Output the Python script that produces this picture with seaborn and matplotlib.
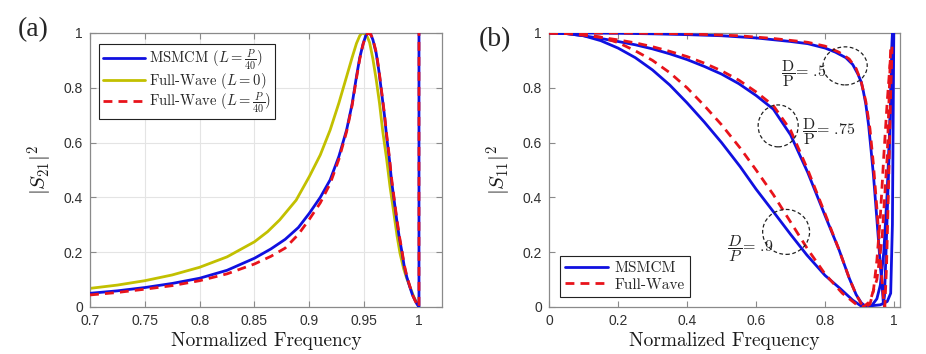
import numpy as np
import pandas as pd
import matplotlib
matplotlib.use("Agg")
import matplotlib.pyplot as plt
from matplotlib.patches import Ellipse
import seaborn as sns

# ---------------- data: panel (a) ----------------
a_msmcm_f = [0.70, 0.725, 0.75, 0.775, 0.80, 0.825, 0.85, 0.865, 0.878, 0.89, 0.90, 0.91,
             0.919, 0.927, 0.934, 0.939, 0.943, 0.946, 0.949, 0.9515, 0.9537, 0.956, 0.958,
             0.961, 0.9635, 0.966, 0.9685, 0.9705, 0.973, 0.975, 0.9775, 0.9797, 0.982,
             0.9845, 0.9865, 0.9888, 0.9915, 0.994, 0.996, 0.998, 1.0, 1.0]
a_msmcm_v = [0.050, 0.059, 0.071, 0.086, 0.105, 0.134, 0.178, 0.212, 0.247, 0.290, 0.342,
             0.400, 0.464, 0.550, 0.646, 0.740, 0.841, 0.910, 0.960, 0.990, 1.0, 0.995, 0.975,
             0.926, 0.860, 0.780, 0.700, 0.622, 0.540, 0.460, 0.385, 0.318, 0.255,
             0.200, 0.150, 0.111, 0.075, 0.045, 0.028, 0.012, 0.0, 1.0]

a_fw0_f = [0.70, 0.725, 0.75, 0.775, 0.80, 0.825, 0.85, 0.862, 0.873, 0.888, 0.90, 0.91,
           0.919, 0.927, 0.934, 0.939, 0.943, 0.946, 0.948, 0.9505, 0.953, 0.955, 0.958,
           0.961, 0.964, 0.967, 0.9705, 0.9736, 0.977, 0.980, 0.9827, 0.986, 0.9888,
           0.9918, 0.995, 0.998, 1.0]
a_fw0_v = [0.068, 0.080, 0.096, 0.117, 0.145, 0.183, 0.238, 0.275, 0.318, 0.390, 0.476,
           0.555, 0.646, 0.745, 0.841, 0.910, 0.962, 0.990, 1.0, 0.997, 0.985, 0.965, 0.905,
           0.830, 0.744, 0.640, 0.540, 0.439, 0.345, 0.260, 0.196, 0.140, 0.105,
           0.074, 0.040, 0.015, 0.0]

a_fwl_f = [0.70, 0.725, 0.75, 0.775, 0.80, 0.825, 0.85, 0.865, 0.878, 0.89, 0.90, 0.91,
           0.919, 0.927, 0.934, 0.939, 0.943, 0.946, 0.949, 0.9515, 0.9537, 0.956, 0.958,
           0.961, 0.9635, 0.966, 0.9685, 0.9705, 0.973, 0.975, 0.9775, 0.9797, 0.982,
           0.9845, 0.9865, 0.9888, 0.9915, 0.994, 0.996, 0.998, 1.0, 1.0]
a_fwl_v = [0.044, 0.053, 0.065, 0.078, 0.096, 0.121, 0.157, 0.185, 0.215, 0.265, 0.320,
           0.380, 0.450, 0.540, 0.640, 0.735, 0.835, 0.905, 0.958, 0.990, 1.0, 0.995, 0.977,
           0.930, 0.865, 0.785, 0.705, 0.630, 0.548, 0.470, 0.392, 0.325, 0.262,
           0.205, 0.155, 0.115, 0.078, 0.045, 0.027, 0.011, 0.0, 1.0]

a_xticks = [0.7, 0.75, 0.8, 0.85, 0.9, 0.95, 1]
a_xticklabels = ["0.7", "0.75", "0.8", "0.85", "0.9", "0.95", "1"]
yticks = [0, 0.2, 0.4, 0.6, 0.8, 1]
yticklabels = ["0", "0.2", "0.4", "0.6", "0.8", "1"]

# ---------------- data: panel (b) ----------------
b_m05_f = [0, 0.1, 0.2, 0.3, 0.4, 0.5, 0.6, 0.7, 0.75, 0.8, 0.83, 0.86, 0.88, 0.895,
           0.905, 0.911, 0.918, 0.926, 0.933, 0.94, 0.947, 0.955, 0.96, 0.965, 0.969,
           0.972, 0.976, 0.981, 0.986, 0.991, 0.995]
b_m05_v = [1, 1, 0.999, 0.997, 0.994, 0.99, 0.982, 0.969, 0.961, 0.945, 0.93, 0.91, 0.885,
           0.85, 0.82, 0.786, 0.74, 0.664, 0.575, 0.482, 0.37, 0.238, 0.15, 0.08, 0.01,
           0.04, 0.18, 0.38, 0.58, 0.8, 1.0]
b_f05_f = [0, 0.2, 0.4, 0.55, 0.65, 0.75, 0.8, 0.84, 0.87, 0.89, 0.905, 0.918, 0.93, 0.94,
           0.95, 0.958, 0.964, 0.969, 0.973, 0.978, 0.984, 0.99, 0.994]
b_f05_v = [1, 1, 0.997, 0.99, 0.98, 0.966, 0.952, 0.93, 0.905, 0.87, 0.82, 0.75, 0.65, 0.52,
           0.36, 0.22, 0.11, 0.035, 0.0, 0.15, 0.45, 0.78, 0.95]

b_m075_f = [0, 0.05, 0.1, 0.15, 0.2, 0.25, 0.3, 0.35, 0.4, 0.45, 0.5, 0.55, 0.6, 0.65,
            0.7, 0.75, 0.8, 0.84, 0.87, 0.89, 0.905, 0.92, 0.935, 0.95, 0.96, 0.97, 0.98,
            0.988, 0.995]
b_m075_v = [1, 0.998, 0.99, 0.98, 0.969, 0.957, 0.942, 0.924, 0.903, 0.878, 0.85, 0.815,
            0.772, 0.722, 0.628, 0.49, 0.333, 0.21, 0.105, 0.045, 0.015, 0.0, 0.005, 0.03,
            0.08, 0.2, 0.42, 0.68, 1.0]
b_f075_f = [0, 0.05, 0.1, 0.15, 0.2, 0.25, 0.3, 0.35, 0.4, 0.45, 0.5, 0.55, 0.6, 0.65,
            0.7, 0.75, 0.8, 0.84, 0.87, 0.89, 0.905, 0.915, 0.93, 0.94, 0.95, 0.96, 0.97,
            0.98, 0.99]
b_f075_v = [1, 0.998, 0.992, 0.984, 0.975, 0.964, 0.95, 0.933, 0.914, 0.89, 0.862, 0.828,
            0.785, 0.735, 0.645, 0.5, 0.34, 0.21, 0.105, 0.045, 0.012, 0.0, 0.01, 0.06,
            0.17, 0.33, 0.55, 0.75, 0.92]

b_m09_f = [0, 0.05, 0.1, 0.15, 0.2, 0.25, 0.3, 0.35, 0.4, 0.45, 0.5, 0.554, 0.6, 0.65, 0.7,
           0.747, 0.8, 0.843, 0.88, 0.905, 0.93, 0.96, 0.98, 0.99, 0.995, 0.999]
b_m09_v = [1, 0.998, 0.99, 0.972, 0.945, 0.91, 0.865, 0.81, 0.745, 0.675, 0.6, 0.512, 0.43,
           0.348, 0.265, 0.19, 0.115, 0.068, 0.025, 0.003, 0.004, 0.008, 0.02, 0.05, 0.3, 1.0]
b_f09_f = [0, 0.05, 0.1, 0.15, 0.2, 0.25, 0.3, 0.35, 0.4, 0.45, 0.5, 0.554, 0.6, 0.65, 0.7,
           0.75, 0.8, 0.85, 0.89, 0.91, 0.93, 0.95, 0.965, 0.98, 0.99]
b_f09_v = [1, 0.999, 0.995, 0.985, 0.965, 0.935, 0.9, 0.855, 0.8, 0.735, 0.665, 0.58, 0.5,
           0.41, 0.31, 0.21, 0.12, 0.05, 0.01, 0.0, 0.02, 0.1, 0.25, 0.55, 0.95]

b_xticks = [0, 0.2, 0.4, 0.6, 0.8, 1]
b_xticklabels = ["0", "0.2", "0.4", "0.6", "0.8", "1"]

BLUE = "#1010e0"
RED = "#e8131b"
YELLOW = "#c2c000"
SPINE = "#8a8a8a"
TICKC = "#303030"

sns.set_theme(style="white")
plt.rcParams["font.family"] = ["Liberation Sans", "DejaVu Sans"]
plt.rcParams["mathtext.fontset"] = "cm"

fig = plt.figure(figsize=(9.26, 3.54), dpi=100)
axA = fig.add_axes([90 / 926, 1 - 307 / 354, (442 - 90) / 926, 274 / 354])
axB = fig.add_axes([549 / 926, 1 - 307 / 354, (900 - 549) / 926, 274 / 354])

LW = 2.0
DASH = (0, (3.2, 2.2))


def draw(ax, f, v, color, ls="-", z=2):
    sns.lineplot(x=f, y=v, ax=ax, estimator=None, sort=False, color=color,
                 linewidth=LW, linestyle=ls, zorder=z)
    return ax.lines[-1]


# panel (a)
l1 = draw(axA, a_msmcm_f, a_msmcm_v, BLUE, "-", 3)
l2 = draw(axA, a_fw0_f, a_fw0_v, YELLOW, "-", 2)
l3 = draw(axA, a_fwl_f, a_fwl_v, RED, DASH, 4)

axA.set_xlim(0.7, 1.021)
axA.set_ylim(0, 1)
axA.set_xticks(a_xticks)
axA.set_xticklabels(a_xticklabels)
axA.set_yticks(yticks)
axA.set_yticklabels(yticklabels)
axA.grid(True, color="#e4e4e4", linewidth=0.8)
axA.set_axisbelow(True)
legA = axA.legend([l1, l2, l3],
                  [r"MSMCM ($L=\frac{P}{40}$)", r"Full-Wave ($L=0$)", r"Full-Wave ($L=\frac{P}{40}$)"],
                  loc="upper left", bbox_to_anchor=(0.026, 0.96), borderaxespad=0,
                  prop={"family": "cmr10", "size": 10.5}, handlelength=2.9, handletextpad=0.3,
                  labelspacing=-0.05, borderpad=0.25, fancybox=False, framealpha=1,
                  edgecolor="#222222")
legA.get_frame().set_linewidth(0.8)

# panel (b)
m1 = draw(axB, b_m05_f, b_m05_v, BLUE, "-", 3)
f1 = draw(axB, b_f05_f, b_f05_v, RED, DASH, 4)
draw(axB, b_m075_f, b_m075_v, BLUE, "-", 3)
draw(axB, b_f075_f, b_f075_v, RED, DASH, 4)
draw(axB, b_m09_f, b_m09_v, BLUE, "-", 3)
draw(axB, b_f09_f, b_f09_v, RED, DASH, 4)

axB.set_xlim(0, 1.017)
axB.set_ylim(0, 1)
axB.set_xticks(b_xticks)
axB.set_xticklabels(b_xticklabels)
axB.set_yticks(yticks)
axB.set_yticklabels(yticklabels)
legB = axB.legend([m1, f1], ["MSMCM", "Full-Wave"], loc="lower left",
                  bbox_to_anchor=(0.031, 0.036), borderaxespad=0,
                  prop={"family": "cmr10", "size": 11}, handlelength=2.8, handletextpad=0.4,
                  labelspacing=0.2, borderpad=0.35, fancybox=False, framealpha=1,
                  edgecolor="#222222")
legB.get_frame().set_linewidth(0.8)

# annotations (b)
for (cx, cy, w, h) in [(0.858, 0.880, 0.128, 0.139), (0.664, 0.661, 0.116, 0.153),
                       (0.687, 0.274, 0.136, 0.164)]:
    axB.add_patch(Ellipse((cx, cy), w, h, fill=False, edgecolor="#222222",
                          linestyle=(0, (3, 2)), linewidth=0.9, zorder=5))
axB.text(0.672, 0.852, r"$\dfrac{\mathrm{D}}{\mathrm{P}}$= .5", family="cmr10",
         fontsize=11.5, ha="left", va="center", color="#222222")
axB.text(0.733, 0.642, r"$\dfrac{\mathrm{D}}{\mathrm{P}}$= .75", family="cmr10",
         fontsize=11.5, ha="left", va="center", color="#222222")
axB.text(0.515, 0.215, r"$\dfrac{D}{P}$= .9", family="cmr10",
         fontsize=11.5, ha="left", va="center", color="#222222")

for ax, lab in [(axA, r"$|S_{21}|^2$"), (axB, r"$|S_{11}|^2$")]:
    ax.set_xlabel("Normalized Frequency", family="cmr10", fontsize=14, labelpad=3,
                  color="#1a1a1a")
    ax.set_ylabel(lab, fontsize=15, labelpad=6, color="#1a1a1a")
    for s in ax.spines.values():
        s.set_visible(True)
        s.set_color(SPINE)
        s.set_linewidth(0.9)
    ax.tick_params(direction="in", length=4, width=0.8, color=SPINE, labelsize=10,
                   labelcolor=TICKC, top=True, right=True, bottom=True, left=True, pad=5)

fig.text(33 / 926, 1 - 30 / 354, "(a)", family="Liberation Serif", fontsize=20,
         ha="center", va="center")
fig.text(495 / 926, 1 - 40 / 354, "(b)", family="Liberation Serif", fontsize=20,
         ha="center", va="center")

fig.savefig("out.png", dpi=100, facecolor="white")
